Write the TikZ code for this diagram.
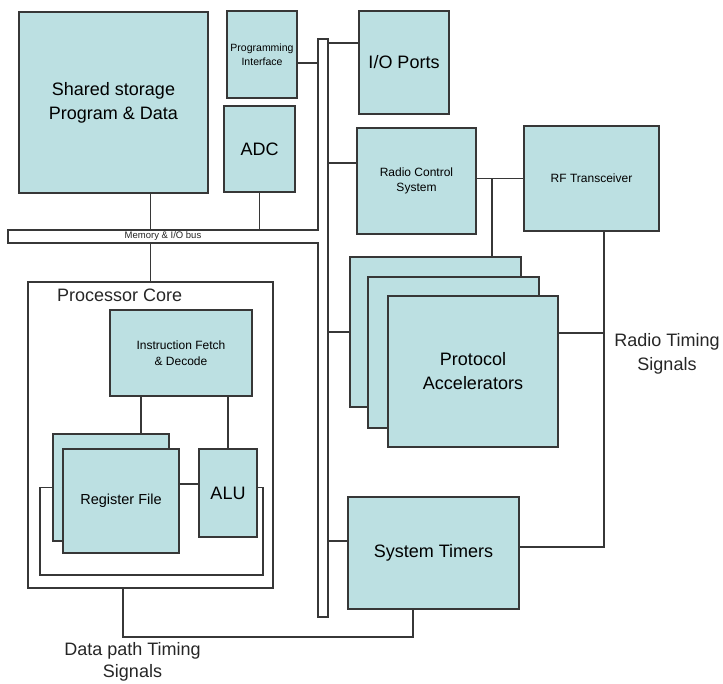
\documentclass[tikz,border=0pt]{standalone}
\usepackage{fontspec}
\setmainfont{Liberation Sans}
\definecolor{boxfill}{RGB}{188,224,226}
\definecolor{linegray}{RGB}{55,55,55}
\newcommand{\sizeL}{\fontsize{18}{24}\selectfont}
\newcommand{\sizeM}{\fontsize{14.5}{18}\selectfont}
\newcommand{\sizeS}{\fontsize{12}{15.5}\selectfont}
\newcommand{\sizeXS}{\fontsize{10.5}{14}\selectfont}
\newcommand{\sizeXXS}{\fontsize{9.5}{11}\selectfont}

\begin{document}
\begin{tikzpicture}[
        x=1pt, y=-1pt,
        block/.style={draw=linegray, fill=boxfill, line width=1.1pt, inner sep=0pt, align=center}, % Box styling
        frame/.style={draw=linegray, line width=1.1pt}, % Outline styling
        wire/.style={draw=linegray, line width=1.1pt}, % Connector styling
        label/.style={inner sep=0pt, align=center, text=black!85}
        ]
        \useasboundingbox (0,0) rectangle (723,684);

        % Memory & I/O bus
        \path[frame, fill=white] (318,39) -- (328,39) -- (328,617) -- (318,617) -- (318,243)
            -- (8,243) -- (8,230) -- (318,230) -- cycle;
        \node[label, font=\sizeXXS] (busname) at (163,236.5) {Memory \& I/O bus};
        \coordinate (bustop) at (0,230);
        \coordinate (busbot) at (0,243);
        \coordinate (busleft) at (318,0);
        \coordinate (busright) at (328,0);

        % Define nodes
        \node[block, font=\sizeL, minimum width=189pt, minimum height=181pt] (store) at (113.5,102.5) {Shared storage\\Program \& Data};
        \node[block, font=\sizeXS, minimum width=70pt, minimum height=87pt] (prog) at (262,54.5) {Programming\\Interface};
        \node[block, font=\sizeL, minimum width=71pt, minimum height=86pt] (adc) at (259.5,149) {ADC};
        \node[block, font=\sizeL, minimum width=90pt, minimum height=103pt] (io) at (404,62.5) {I/O Ports};
        \node[block, font=\sizeS, minimum width=119pt, minimum height=106pt] (rcs) at (416.5,181) {Radio Control\\System};
        \node[block, font=\sizeS, minimum width=135pt, minimum height=105pt] (rf) at (591.5,178.5) {RF Transceiver};
        \node[block, minimum width=171pt, minimum height=150pt] (pa1) at (435.5,332) {};
        \node[block, minimum width=171pt, minimum height=151pt] (pa2) at (453.5,352.5) {};
        \node[block, font=\sizeL, minimum width=170pt, minimum height=151pt] (pa3) at (473,371.5) {Protocol\\Accelerators};
        \node[block, font=\sizeL, minimum width=171pt, minimum height=112pt] (timers) at (433.5,553) {System Timers};

        % Processor core
        \node[frame, inner sep=0pt, minimum width=245pt, minimum height=306pt] (core) at (150.5,435) {};
        \node[label, font=\sizeL, anchor=west] (corename) at (57,295) {Processor Core};
        \node[block, font=\sizeS, minimum width=142pt, minimum height=86pt] (ifd) at (181,353) {Instruction Fetch\\\& Decode};
        \node[block, minimum width=116pt, minimum height=107pt] (rfback) at (111,487.5) {};
        \node[block, font=\sizeM, minimum width=116pt, minimum height=104pt] (regfile) at (121,501) {Register File};
        \node[block, font=\sizeL, minimum width=58pt, minimum height=88pt] (alu) at (228,493) {ALU};

        % Timing labels
        \node[label, font=\sizeL] (radiotiming) at (667,354) {Radio Timing\\Signals};
        \node[label, font=\fontsize{18}{22}\selectfont] (dptiming) at (132.5,662) {Data path Timing\\Signals};

        % Draw connections to the bus
        \draw[wire] (core.north |- store.south) -- (core.north |- bustop);
        \draw[wire] (core.north |- busbot) -- (core.north);
        \draw[wire] (adc.south) -- (adc.south |- bustop);
        \draw[wire] ([yshift=-8.5pt]prog.east) -- ([yshift=-8.5pt]prog.east -| busleft);
        \draw[wire] ([yshift=19.5pt]io.west -| busright) -- ([yshift=19.5pt]io.west);
        \draw[wire] ([yshift=18pt]rcs.west -| busright) -- ([yshift=18pt]rcs.west);
        \draw[wire] (busright |- pa1.west) -- (pa1.west);
        \draw[wire] ([yshift=12pt]timers.west -| busright) -- ([yshift=12pt]timers.west);

        % Draw radio side
        \draw[wire] (rcs.east |- rf.west) -- (rf.west);
        \coordinate (split) at (492,178.5);
        \draw[wire] (split) -- (split |- pa1.north);
        \coordinate (rtline) at (604,0);
        \draw[wire] ([xshift=12.5pt]rf.south) |- ([yshift=6pt]timers.east);
        \draw[wire] ([yshift=38.5pt]pa3.east) -- ([yshift=38.5pt]pa3.east -| rtline);

        % Draw core internals
        \draw[wire] ([xshift=-40pt]ifd.south) -- ([xshift=-40pt]ifd.south |- rfback.north);
        \draw[wire] (alu.north |- ifd.south) -- (alu.north);
        \draw[wire] ([yshift=17pt]regfile.east) -- ([yshift=17pt]regfile.east -| alu.west);
        \coordinate (loopL) at (40,575);
        \coordinate (loopR) at (263,575);
        \draw[wire] (rfback.west) -| (loopL) -- (loopR) |- (alu.east |- rfback.west);

        % Draw data path timing
        \coordinate (dp) at (123,637);
        \draw[wire] (dp |- core.south) -- (dp) -| ([xshift=-20.5pt]timers.south);

    \end{tikzpicture}
\end{document}
